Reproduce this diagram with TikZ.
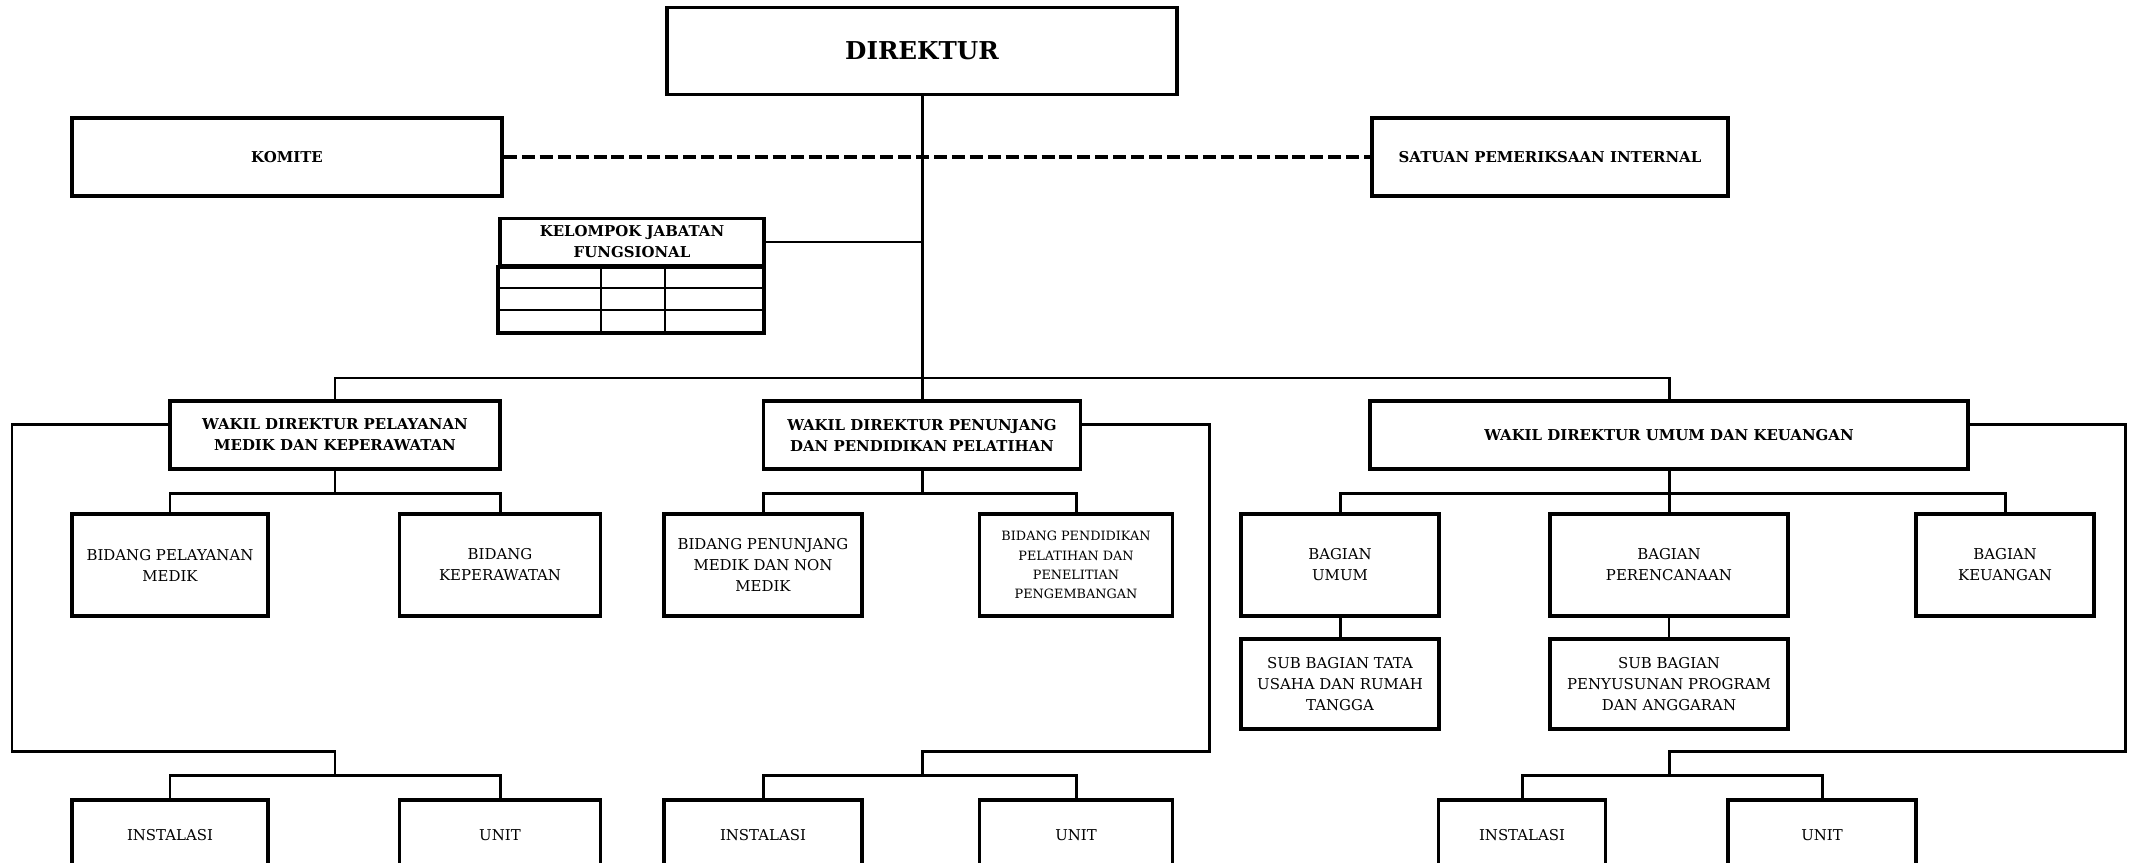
\documentclass[tikz,border=0pt]{standalone}
\usepackage{fontspec}
\setmainfont{DejaVu Serif}
\usepackage{tikz}
\usetikzlibrary{positioning}
\tikzstyle{unitbox} = [rectangle, draw=black, line width=2.2pt, align=center, inner sep=1pt, font=\fontsize{8.5}{12}\selectfont]
\tikzstyle{headbox} = [unitbox, font=\bfseries\fontsize{8.5}{12}\selectfont]
\tikzstyle{link} = [line width=1.7pt]

\begin{document}
\begin{tikzpicture}[x=0.02cm, y=-0.02cm]
\useasboundingbox (0,0) rectangle (2132,862);
\clip (0,0) rectangle (2132,862);
% top level
\node (dir) [headbox, minimum width=102mm, minimum height=17.4mm, font=\bfseries\fontsize{14}{16}\selectfont] at (922,51) {DIREKTUR};
\node (komite) [headbox, minimum width=86mm, minimum height=15.6mm] at (287,157) {KOMITE};
\node (spi) [headbox, minimum width=71.2mm, minimum height=15.6mm] at (1550,157) {SATUAN PEMERIKSAAN INTERNAL};
\node (kjf) [headbox, minimum width=52.8mm, minimum height=9.4mm] at (632,242) {KELOMPOK JABATAN\\FUNGSIONAL};
\draw [line width=1.2pt] (500,288) -- (764,288) (500,310) -- (764,310) (601,266) -- (601,333) (665,266) -- (665,333);
\draw [line width=2.2pt] (kjf.south west) rectangle (764,333);
% wakil direktur
\node (wd1) [headbox, minimum width=66mm, minimum height=13.6mm] at (335,435) {WAKIL DIREKTUR PELAYANAN\\MEDIK DAN KEPERAWATAN};
\node (wd2) [headbox, minimum width=63.4mm, minimum height=13.6mm] at (922,435) {WAKIL DIREKTUR PENUNJANG\\DAN PENDIDIKAN PELATIHAN};
\node (wd3) [headbox, minimum width=119.6mm, minimum height=13.6mm] at (1669,435) {WAKIL DIREKTUR UMUM DAN KEUANGAN};
% bidang / bagian
\node (bpm) [unitbox, minimum width=39.2mm, minimum height=20.4mm] at (170,565) {BIDANG PELAYANAN\\MEDIK};
\node (bkep) [unitbox, minimum width=40.2mm, minimum height=20.4mm] at (500,565) {BIDANG\\KEPERAWATAN};
\node (bpen) [unitbox, minimum width=39.6mm, minimum height=20.4mm] at (763,565) {BIDANG PENUNJANG\\MEDIK DAN NON\\MEDIK};
\node (bdik) [unitbox, minimum width=38.6mm, minimum height=20.4mm, font=\fontsize{7.3}{11}\selectfont] at (1076,565) {BIDANG PENDIDIKAN\\PELATIHAN DAN\\PENELITIAN\\PENGEMBANGAN};
\node (bum) [unitbox, minimum width=39.6mm, minimum height=20.4mm] at (1340,565) {BAGIAN\\UMUM};
\node (bren) [unitbox, minimum width=47.6mm, minimum height=20.4mm] at (1669,565) {BAGIAN\\PERENCANAAN};
\node (bkeu) [unitbox, minimum width=35.6mm, minimum height=20.4mm] at (2005,565) {BAGIAN\\KEUANGAN};
\node (stu) [unitbox, minimum width=39.6mm, minimum height=18mm] at (1340,684) {SUB BAGIAN TATA\\USAHA DAN RUMAH\\TANGGA};
\node (spa) [unitbox, minimum width=47.6mm, minimum height=18mm] at (1669,684) {SUB BAGIAN\\PENYUSUNAN PROGRAM\\DAN ANGGARAN};
% instalasi / unit
\node (ins1) [unitbox, anchor=north, minimum width=39.2mm, minimum height=14mm] at (170,798) {INSTALASI};
\node (unit1) [unitbox, anchor=north, minimum width=40.2mm, minimum height=14mm] at (500,798) {UNIT};
\node (ins2) [unitbox, anchor=north, minimum width=39.6mm, minimum height=14mm] at (763,798) {INSTALASI};
\node (unit2) [unitbox, anchor=north, minimum width=38.6mm, minimum height=14mm] at (1076,798) {UNIT};
\node (ins3) [unitbox, anchor=north, minimum width=33.4mm, minimum height=14mm] at (1522,798) {INSTALASI};
\node (unit3) [unitbox, anchor=north, minimum width=37.6mm, minimum height=14mm] at (1822,798) {UNIT};
% bend points
\coordinate (bus) at (922,378);
\coordinate (lp1) at (12,751);
\coordinate (lp2) at (1209,751);
\coordinate (lp3) at (2125,751);
\coordinate (dr1) at (335,775);
\coordinate (dr2) at (922,775);
\coordinate (dr3) at (1669,775);
% connectors
\draw [line width=2.3pt, dash pattern=on 7.4pt off 2.8pt] (komite.east) -- (spi.west);
\draw [link] (dir.south) -- (wd2.north);
\draw [link] (kjf.east) -- (kjf.east -| dir.south);
\draw [link] (wd1.north) |- (bus) -| (wd3.north);
\draw [link] (wd1.south) -- ++(0,23) coordinate (c1);
\draw [link] (bpm.north) |- (c1) -| (bkep.north);
\draw [link] (wd2.south) -- ++(0,23) coordinate (c2);
\draw [link] (bpen.north) |- (c2) -| (bdik.north);
\draw [link] (wd3.south) -- ++(0,23) coordinate (c3);
\draw [link] (bum.north) |- (c3) -| (bkeu.north);
\draw [link] (c3) -- (bren.north);
\draw [link] (bum.south) -- (stu.north);
\draw [line width=0.8pt] (bren.south) -- (spa.north);
\draw [link] ([yshift=2.2mm]wd1.west) -| (lp1) -| (dr1);
\draw [link] (ins1.north) |- (dr1) -| (unit1.north);
\draw [link] ([yshift=2.2mm]wd2.east) -| (lp2) -| (dr2);
\draw [link] (ins2.north) |- (dr2) -| (unit2.north);
\draw [link] ([yshift=2.2mm]wd3.east) -| (lp3) -| (dr3);
\draw [link] (ins3.north) |- (dr3) -| (unit3.north);
\end{tikzpicture}
\end{document}
